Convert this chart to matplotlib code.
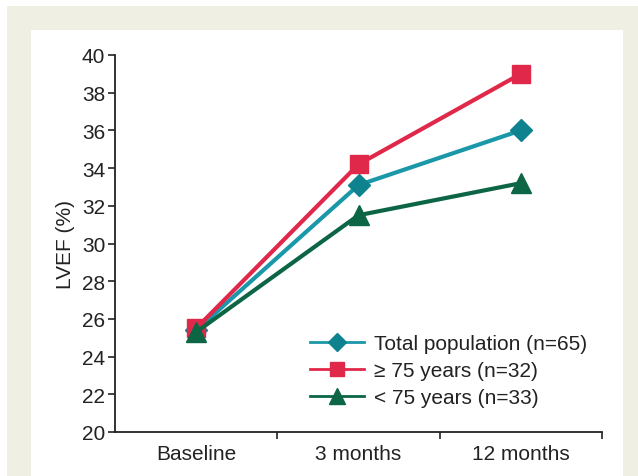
import matplotlib
matplotlib.use("Agg")
import matplotlib.pyplot as plt
from matplotlib.patches import Rectangle

plt.rcParams['font.family'] = ['Liberation Sans', 'DejaVu Sans']

categories = ["Baseline", "3 months", "12 months"]
total_pop = [25.4, 33.1, 36.0]
over75 = [25.5, 34.2, 39.0]
under75 = [25.3, 31.5, 33.2]
yticks = list(range(20, 41, 2))

W, H = 638, 477
fig = plt.figure(figsize=(W / 100, H / 100), dpi=100)
fig.patch.set_facecolor("white")
fig.patches.append(Rectangle((7 / W, 0), 1 - 7 / W, 1 - 7 / H, transform=fig.transFigure,
                             facecolor="#EFEFE3", edgecolor="none", zorder=-2))
fig.patches.append(Rectangle((31 / W, 0), (623 - 31) / W, 1 - 31 / H, transform=fig.transFigure,
                             facecolor="white", edgecolor="none", zorder=-1))

ax = fig.add_axes([115 / W, 1 - 433 / H, (602 - 115) / W, (433 - 56) / H])
ax.set_facecolor("none")
x = list(range(len(categories)))

ax.plot(x, total_pop, color="#1A97A8", lw=3.0, marker="D", ms=11, mfc="#0F8290", mec="#0F8290",
        label="Total population (n=65)", zorder=3)
ax.plot(x, over75, color="#E0294A", lw=3.0, marker="s", ms=13, mfc="#E0294A", mec="#E0294A",
        label="\u2265 75 years (n=32)", zorder=3)
ax.plot(x, under75, color="#0C6645", lw=3.0, marker="^", ms=14, mfc="#0C6645", mec="#0C6645",
        label="< 75 years (n=33)", zorder=4)

fs = 15
ax.set_xlim(-0.5, 2.5)
ax.set_ylim(20, 40)
ax.set_yticks(yticks)
ax.set_xticks(x)
ax.set_xticklabels(categories, fontsize=fs)
ax.set_xticks([0.5, 1.5, 2.5], minor=True)
ax.tick_params(axis="x", which="major", length=0, pad=9, colors="#222222")
ax.tick_params(axis="x", which="minor", length=5, width=1.2, direction="out", color="#222222")
ax.tick_params(axis="y", length=5, width=1.2, direction="out", labelsize=fs, pad=2, colors="#222222")
for s in ["top", "right"]:
    ax.spines[s].set_visible(False)
for s in ["left", "bottom"]:
    ax.spines[s].set_linewidth(1.3)
    ax.spines[s].set_color("#222222")
ax.set_ylabel("LVEF (%)", fontsize=fs, color="#222222", labelpad=5)

leg = ax.legend(loc="lower right", bbox_to_anchor=(1.0, 0.027), frameon=False, fontsize=fs,
                handlelength=2.6, handletextpad=0.5, labelspacing=0.38, markerscale=0.8,
                borderpad=0.2)
for t in leg.get_texts():
    t.set_color("#222222")
for h in leg.legend_handles:
    h.set_linewidth(2.0)

fig.savefig("out.png", dpi=100, facecolor=fig.get_facecolor())
